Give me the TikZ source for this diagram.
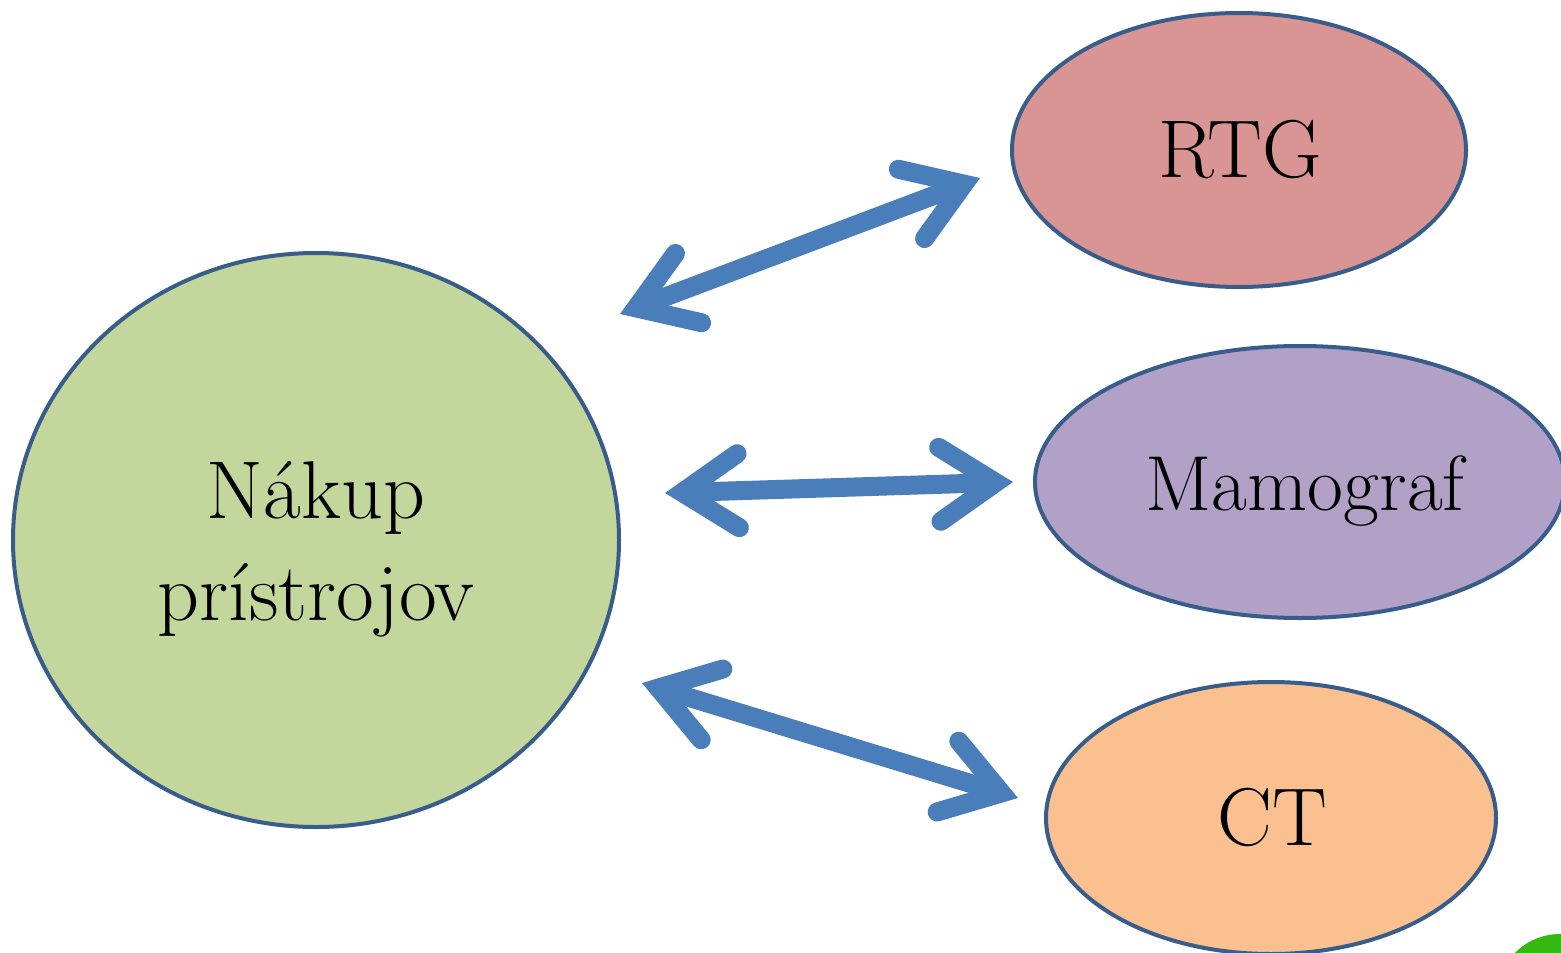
\documentclass[tikz,border=0pt]{standalone}
\usetikzlibrary{shapes.geometric,arrows.meta}
\definecolor{edgeblue}{RGB}{56,93,138}
\definecolor{arrblue}{RGB}{74,126,187}
\definecolor{cgreen}{RGB}{195,214,155}
\definecolor{cred}{RGB}{217,149,148}
\definecolor{cviolet}{RGB}{178,161,199}
\definecolor{corange}{RGB}{250,192,143}
\definecolor{dotgreen}{RGB}{51,185,17}
\tikzset{
  ell/.style={ellipse, draw=edgeblue, line width=4pt, inner sep=0pt},
  lbl/.style={anchor=base, inner sep=0pt, font=\fontsize{82}{100}\selectfont},
  dbl/.style={draw=arrblue, line width=19pt, line cap=round,
    {Straight Barb[length=56pt, width=74pt, line cap=round, line join=miter]}-{Straight Barb[length=56pt, width=74pt, line cap=round, line join=miter]}}
}
\begin{document}
\begin{tikzpicture}[x=1pt, y=-1pt]
\useasboundingbox (0,0) rectangle (1561,953);
\fill[white] (0,0) rectangle (1561,953);
% green dot at bottom right
\fill[dotgreen] (1560,997) circle (63);
% ellipses
\node[ell, fill=cgreen, minimum width=606pt, minimum height=574pt] (main) at (316,540) {};
\node[ell, fill=cred, minimum width=454pt, minimum height=274pt] (rtg) at (1239,150) {};
\node[ell, fill=cviolet, minimum width=530pt, minimum height=272pt] (mamo) at (1300,482) {};
\node[ell, fill=corange, minimum width=450pt, minimum height=272pt] (ct) at (1271,818) {};
% labels
\node[lbl] (t1) at (316,518) {Nákup};
\node[lbl] (t2) at (316,620) {prístrojov};
\node[lbl] (trtg) at (1240,177) {RTG};
\node[lbl, font=\fontsize{78}{100}\selectfont] (tmamo) at (1305,510) {Mamograf};
\node[lbl] (tct) at (1272,845) {CT};
% arrow ends
\coordinate (a1s) at (620,314);
\coordinate (a1e) at (980,178);
\coordinate (a2s) at (665,493);
\coordinate (a2e) at (1013,482);
\coordinate (a3s) at (642,683);
\coordinate (a3e) at (1018,798);
\draw[dbl] (a1s) -- (a1e);
\draw[dbl] (a2s) -- (a2e);
\draw[dbl] (a3s) -- (a3e);
\end{tikzpicture}
\end{document}
